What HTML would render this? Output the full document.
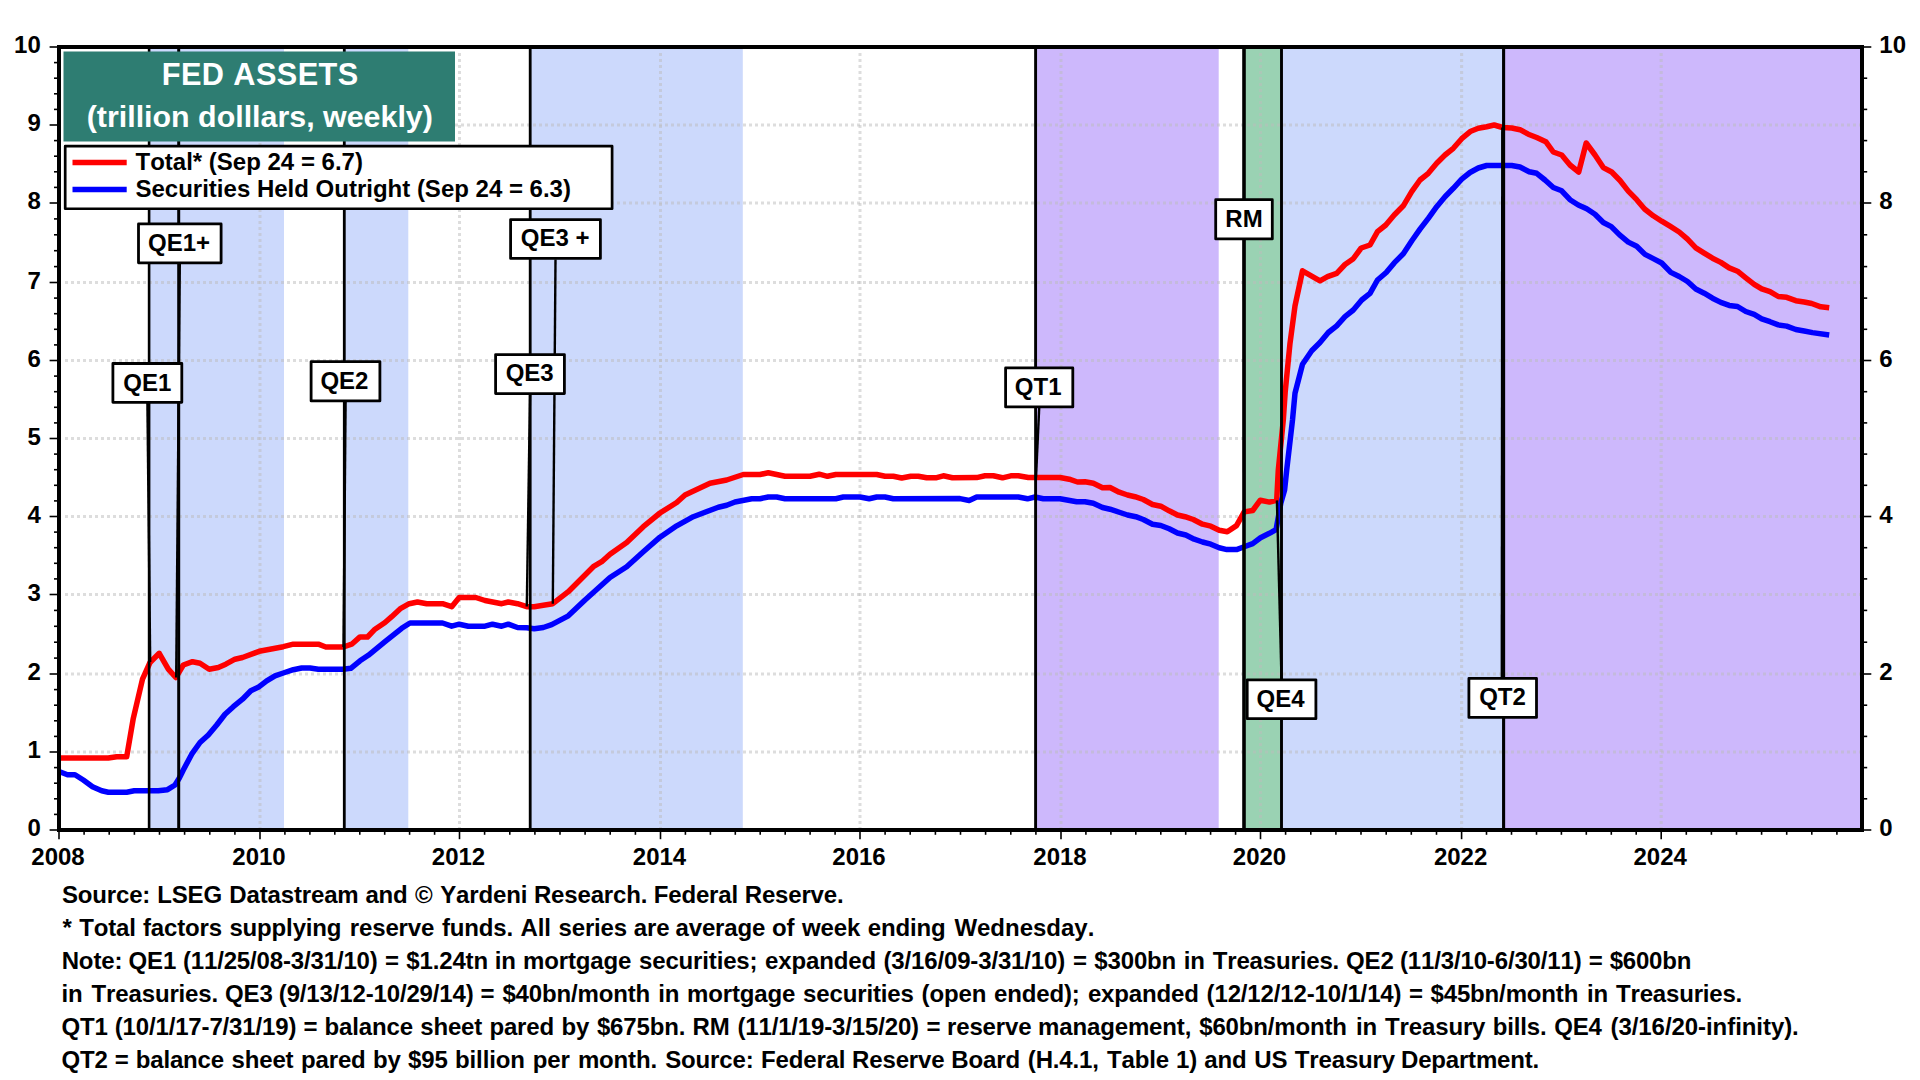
<!DOCTYPE html>
<html lang="en"><head><meta charset="utf-8"><title>Fed Assets</title>
<style>html,body{margin:0;padding:0;background:#fff;width:1920px;height:1080px;overflow:hidden}svg{display:block}</style></head>
<body>
<svg width="1920" height="1080" viewBox="0 0 1920 1080" font-family="Liberation Sans, Arial, Helvetica, sans-serif" font-weight="bold" style="font-kerning:none">
<rect width="1920" height="1080" fill="#fff"/>
<rect x="150.0" y="49" width="134.0" height="779" fill="#ccd9fc"/>
<rect x="345.0" y="49" width="63.3" height="779" fill="#ccd9fc"/>
<rect x="531.0" y="49" width="211.8" height="779" fill="#ccd9fc"/>
<rect x="1282.0" y="49" width="220.5" height="779" fill="#ccd9fc"/>
<rect x="1037.0" y="49" width="181.7" height="779" fill="#cdb8fc"/>
<rect x="1504.0" y="49" width="356.0" height="779" fill="#cdb8fc"/>
<rect x="1245.0" y="49" width="36.0" height="779" fill="#9ad2b3"/>
<g stroke="#bcbcbc" stroke-opacity="0.5" stroke-width="3" stroke-dasharray="3 3" fill="none">
<path d="M65 752.0H1860"/>
<path d="M65 674.0H1860"/>
<path d="M65 594.5H1860"/>
<path d="M65 516.5H1860"/>
<path d="M65 438.5H1860"/>
<path d="M65 360.5H1860"/>
<path d="M65 282.5H1860"/>
<path d="M65 203.0H1860"/>
<path d="M65 125.0H1860"/>
<path d="M260.0 53V828"/>
<path d="M459.5 53V828"/>
<path d="M660.5 53V828"/>
<path d="M860.0 53V828"/>
<path d="M1061.0 53V828"/>
<path d="M1260.5 53V828"/>
<path d="M1461.6 53V828"/>
<path d="M1661.2 53V828"/>
</g>
<path d="M59.0 758.0 L108.3 758.0 L116.7 756.7 L126.7 756.7 L133.3 718.3 L142.5 679.2 L150.0 662.5 L159.2 653.3 L168.3 669.2 L175.8 677.5 L183.3 665.0 L192.5 661.7 L200.0 663.3 L209.2 669.2 L218.3 667.5 L225.8 664.2 L235.0 659.2 L242.5 657.5 L259.2 651.3 L283.3 646.7 L293.3 644.2 L318.3 644.2 L325.8 647.0 L343.3 647.0 L351.7 644.2 L360.0 636.9 L367.5 637.0 L375.0 629.2 L385.0 622.5 L391.7 616.7 L400.8 608.3 L409.2 603.7 L417.5 602.0 L426.7 603.7 L442.5 603.7 L451.7 606.7 L459.2 597.5 L475.8 597.5 L485.0 600.5 L501.7 603.7 L508.3 602.0 L517.5 603.7 L526.7 606.7 L534.2 606.7 L543.3 605.3 L552.8 603.7 L568.3 591.7 L593.3 566.7 L601.7 561.7 L610.0 554.2 L626.7 542.5 L643.3 526.7 L660.0 513.0 L676.7 502.5 L685.0 495.0 L710.0 483.3 L726.7 480.0 L743.3 474.5 L760.0 474.5 L768.3 472.8 L785.0 476.3 L810.0 476.3 L819.2 474.2 L827.5 476.3 L835.8 474.5 L876.7 474.5 L885.0 476.3 L893.3 476.3 L901.7 478.0 L910.8 476.2 L918.3 476.2 L926.7 477.8 L935.8 477.8 L943.3 475.8 L952.5 477.8 L976.7 477.6 L985.0 475.8 L993.3 475.8 L1002.5 477.8 L1010.8 475.8 L1018.3 475.8 L1028.3 477.5 L1060.0 477.5 L1069.2 479.2 L1077.5 482.0 L1085.0 481.7 L1093.3 483.3 L1102.5 487.8 L1110.0 487.5 L1119.2 492.2 L1127.5 495.0 L1135.0 496.7 L1143.3 499.5 L1152.5 504.5 L1160.8 506.2 L1169.2 510.8 L1177.5 515.0 L1185.0 516.7 L1193.3 519.5 L1202.5 524.2 L1210.8 526.2 L1219.2 530.2 L1227.3 531.7 L1236.5 525.6 L1244.2 511.9 L1252.7 510.5 L1260.3 500.2 L1269.5 502.1 L1276.7 500.4 L1278.3 470.0 L1283.3 420.0 L1285.2 392.0 L1290.0 343.3 L1295.0 305.8 L1302.5 270.8 L1320.0 280.8 L1327.5 276.7 L1336.7 273.3 L1345.0 264.5 L1353.3 258.7 L1361.2 248.0 L1370.0 245.0 L1377.5 231.7 L1385.8 225.0 L1394.2 215.0 L1403.3 205.8 L1411.7 191.7 L1420.0 180.0 L1428.3 173.3 L1436.7 163.3 L1445.0 155.0 L1453.3 148.3 L1461.7 138.7 L1470.8 131.2 L1478.3 128.3 L1486.7 126.7 L1494.2 125.0 L1502.5 127.5 L1511.7 128.0 L1520.0 129.7 L1528.3 134.2 L1536.7 137.5 L1545.8 141.7 L1553.3 152.0 L1561.7 155.0 L1570.0 165.0 L1578.7 172.0 L1586.2 143.0 L1595.0 155.0 L1603.3 167.6 L1611.7 172.0 L1620.0 180.5 L1628.3 191.1 L1636.7 199.7 L1644.6 209.0 L1653.3 215.8 L1661.7 221.2 L1670.0 226.2 L1679.2 232.0 L1687.5 239.2 L1695.8 247.9 L1704.2 253.2 L1712.5 258.2 L1720.8 262.4 L1729.2 267.9 L1737.5 271.2 L1745.8 277.8 L1754.2 284.3 L1761.7 288.9 L1770.0 291.6 L1778.3 296.5 L1786.7 297.3 L1795.8 300.7 L1804.2 302.0 L1811.7 303.5 L1820.8 306.8 L1829.2 307.8" fill="none" stroke="#ff0000" stroke-width="5.5" stroke-linejoin="round"/>
<path d="M59.0 771.5 L67.5 774.7 L75.0 774.7 L83.3 780.0 L92.5 786.7 L101.7 790.8 L108.3 792.2 L126.7 792.2 L134.2 790.8 L158.3 790.8 L167.5 789.7 L175.0 785.0 L179.2 778.3 L183.3 770.0 L191.7 754.2 L200.0 742.5 L208.3 735.0 L216.7 725.0 L225.0 714.2 L233.3 706.7 L242.5 699.2 L250.8 690.8 L259.2 686.7 L266.7 680.8 L275.0 675.8 L283.3 673.0 L293.3 669.7 L301.7 668.0 L310.0 668.0 L318.3 669.3 L343.3 669.3 L350.8 668.3 L360.0 660.8 L368.3 655.3 L385.0 641.7 L401.7 628.3 L410.0 623.0 L442.5 623.0 L451.7 626.2 L459.2 624.2 L468.3 626.2 L485.0 626.2 L492.5 624.2 L501.7 626.2 L508.3 624.2 L517.5 627.5 L526.7 627.8 L534.2 628.8 L543.3 627.5 L551.7 624.7 L568.3 615.8 L585.0 600.0 L610.0 577.5 L626.7 566.7 L643.3 551.7 L660.0 537.2 L676.7 525.8 L693.3 516.7 L718.3 507.2 L726.7 505.3 L735.0 502.0 L751.7 498.7 L760.0 498.7 L768.3 497.0 L776.7 497.0 L785.0 498.7 L835.8 498.7 L843.3 497.0 L860.0 497.0 L869.2 498.7 L876.7 497.0 L885.0 497.0 L893.3 498.7 L960.0 498.6 L969.2 500.5 L976.7 497.0 L1018.3 497.0 L1027.5 498.8 L1035.0 497.0 L1043.3 498.7 L1060.0 498.7 L1076.7 501.7 L1085.0 501.7 L1093.3 503.3 L1102.5 507.5 L1110.0 509.2 L1127.5 515.0 L1135.8 516.7 L1143.3 519.5 L1152.5 524.2 L1160.8 525.5 L1169.2 528.8 L1177.5 533.0 L1185.8 535.0 L1194.2 539.2 L1202.5 542.0 L1210.8 544.2 L1219.2 547.8 L1226.9 549.6 L1236.5 549.6 L1244.2 546.7 L1252.7 543.6 L1260.5 537.7 L1269.4 533.3 L1276.1 529.6 L1280.8 503.3 L1284.6 490.0 L1286.7 470.0 L1292.5 420.0 L1295.0 393.3 L1302.5 364.2 L1311.7 350.8 L1320.0 342.5 L1328.3 332.5 L1336.7 325.8 L1345.0 316.7 L1353.3 310.0 L1361.7 300.0 L1370.0 293.3 L1377.5 280.0 L1386.2 272.5 L1394.2 262.9 L1403.3 253.8 L1412.0 240.5 L1420.0 229.2 L1428.3 218.3 L1436.7 206.7 L1445.0 196.7 L1453.3 188.3 L1461.7 179.2 L1470.0 172.5 L1478.3 168.0 L1486.7 165.5 L1511.7 165.5 L1520.0 167.0 L1529.2 171.7 L1536.7 173.3 L1545.0 180.0 L1553.3 187.5 L1561.7 190.8 L1570.0 199.7 L1578.3 205.0 L1586.7 208.8 L1595.0 214.2 L1603.3 222.5 L1611.3 226.6 L1619.6 234.9 L1628.3 242.1 L1636.7 246.3 L1645.0 254.4 L1653.3 258.6 L1661.7 263.0 L1670.8 272.4 L1679.2 276.5 L1687.5 281.5 L1695.8 289.0 L1704.2 293.2 L1712.5 298.2 L1720.8 302.4 L1729.2 305.4 L1737.5 306.5 L1745.8 311.5 L1754.2 314.4 L1761.7 318.8 L1770.0 321.7 L1778.3 324.9 L1786.7 326.1 L1795.8 329.5 L1804.2 331.0 L1812.5 332.6 L1829.2 335.0" fill="none" stroke="#0000ff" stroke-width="5.5" stroke-linejoin="round"/>
<g stroke="#000">
<path d="M149.1 49V828" stroke-width="2.6"/>
<path d="M178.7 49V828" stroke-width="3.0"/>
<path d="M344.3 49V828" stroke-width="2.8"/>
<path d="M530.2 49V828" stroke-width="2.8"/>
<path d="M1035.6 49V828" stroke-width="2.9"/>
<path d="M1244.0 49V828" stroke-width="3.6"/>
<path d="M1281.5 49V828" stroke-width="2.9"/>
<path d="M1503.6 49V828" stroke-width="3.1"/>
</g>
<g stroke="#000" stroke-width="2.4">
<path d="M147.4 403.0L150.2 662.0"/>
<path d="M179.8 264.0L176.2 677.5"/>
<path d="M345.6 402.0L343.5 647.0"/>
<path d="M530.0 394.5L526.8 606.5"/>
<path d="M555.5 259.5L552.8 603.7"/>
<path d="M1039.2 408.0L1036.0 477.5"/>
<path d="M1244.0 240.0L1244.2 512.0"/>
<path d="M1281.5 679.0L1276.9 500.4"/>
<path d="M1501.8 677.5L1502.3 127.5"/>
</g>
<rect x="59" y="47" width="1803" height="783" fill="none" stroke="#000" stroke-width="4"/>
<g stroke="#000" stroke-width="1.6">
<path d="M49.6 830.0H57"/>
<path d="M54 814.4H57"/>
<path d="M54 798.8H57"/>
<path d="M54 783.2H57"/>
<path d="M54 767.6H57"/>
<path d="M49.6 752.0H57"/>
<path d="M54 736.4H57"/>
<path d="M54 720.8H57"/>
<path d="M54 705.2H57"/>
<path d="M54 689.6H57"/>
<path d="M49.6 674.0H57"/>
<path d="M54 658.1H57"/>
<path d="M54 642.2H57"/>
<path d="M54 626.3H57"/>
<path d="M54 610.4H57"/>
<path d="M49.6 594.5H57"/>
<path d="M54 578.9H57"/>
<path d="M54 563.3H57"/>
<path d="M54 547.7H57"/>
<path d="M54 532.1H57"/>
<path d="M49.6 516.5H57"/>
<path d="M54 500.9H57"/>
<path d="M54 485.3H57"/>
<path d="M54 469.7H57"/>
<path d="M54 454.1H57"/>
<path d="M49.6 438.5H57"/>
<path d="M54 422.9H57"/>
<path d="M54 407.3H57"/>
<path d="M54 391.7H57"/>
<path d="M54 376.1H57"/>
<path d="M49.6 360.5H57"/>
<path d="M54 344.9H57"/>
<path d="M54 329.3H57"/>
<path d="M54 313.7H57"/>
<path d="M54 298.1H57"/>
<path d="M49.6 282.5H57"/>
<path d="M54 266.6H57"/>
<path d="M54 250.7H57"/>
<path d="M54 234.8H57"/>
<path d="M54 218.9H57"/>
<path d="M49.6 203.0H57"/>
<path d="M54 187.4H57"/>
<path d="M54 171.8H57"/>
<path d="M54 156.2H57"/>
<path d="M54 140.6H57"/>
<path d="M49.6 125.0H57"/>
<path d="M54 109.4H57"/>
<path d="M54 93.8H57"/>
<path d="M54 78.2H57"/>
<path d="M54 62.6H57"/>
<path d="M49.6 47.0H57"/>
<path d="M1864 830.0H1871.3"/>
<path d="M1864 798.8H1867.2"/>
<path d="M1864 767.6H1867.2"/>
<path d="M1864 736.4H1867.2"/>
<path d="M1864 705.2H1867.2"/>
<path d="M1864 674.0H1871.3"/>
<path d="M1864 642.2H1867.2"/>
<path d="M1864 610.4H1867.2"/>
<path d="M1864 578.9H1867.2"/>
<path d="M1864 547.7H1867.2"/>
<path d="M1864 516.5H1871.3"/>
<path d="M1864 485.3H1867.2"/>
<path d="M1864 454.1H1867.2"/>
<path d="M1864 422.9H1867.2"/>
<path d="M1864 391.7H1867.2"/>
<path d="M1864 360.5H1871.3"/>
<path d="M1864 329.3H1867.2"/>
<path d="M1864 298.1H1867.2"/>
<path d="M1864 266.6H1867.2"/>
<path d="M1864 234.8H1867.2"/>
<path d="M1864 203.0H1871.3"/>
<path d="M1864 171.8H1867.2"/>
<path d="M1864 140.6H1867.2"/>
<path d="M1864 109.4H1867.2"/>
<path d="M1864 78.2H1867.2"/>
<path d="M1864 47.0H1871.3"/>
<path d="M59.0 832V839.2"/>
<path d="M84.1 832V834.8"/>
<path d="M109.2 832V834.8"/>
<path d="M134.4 832V834.8"/>
<path d="M159.5 832V834.8"/>
<path d="M184.6 832V834.8"/>
<path d="M209.8 832V834.8"/>
<path d="M234.9 832V834.8"/>
<path d="M260.0 832V839.2"/>
<path d="M284.9 832V834.8"/>
<path d="M309.9 832V834.8"/>
<path d="M334.8 832V834.8"/>
<path d="M359.8 832V834.8"/>
<path d="M384.7 832V834.8"/>
<path d="M409.6 832V834.8"/>
<path d="M434.6 832V834.8"/>
<path d="M459.5 832V839.2"/>
<path d="M484.6 832V834.8"/>
<path d="M509.8 832V834.8"/>
<path d="M534.9 832V834.8"/>
<path d="M560.0 832V834.8"/>
<path d="M585.1 832V834.8"/>
<path d="M610.2 832V834.8"/>
<path d="M635.4 832V834.8"/>
<path d="M660.5 832V839.2"/>
<path d="M685.4 832V834.8"/>
<path d="M710.4 832V834.8"/>
<path d="M735.3 832V834.8"/>
<path d="M760.2 832V834.8"/>
<path d="M785.2 832V834.8"/>
<path d="M810.1 832V834.8"/>
<path d="M835.1 832V834.8"/>
<path d="M860.0 832V839.2"/>
<path d="M885.1 832V834.8"/>
<path d="M910.2 832V834.8"/>
<path d="M935.4 832V834.8"/>
<path d="M960.5 832V834.8"/>
<path d="M985.6 832V834.8"/>
<path d="M1010.8 832V834.8"/>
<path d="M1035.9 832V834.8"/>
<path d="M1061.0 832V839.2"/>
<path d="M1085.9 832V834.8"/>
<path d="M1110.9 832V834.8"/>
<path d="M1135.8 832V834.8"/>
<path d="M1160.8 832V834.8"/>
<path d="M1185.7 832V834.8"/>
<path d="M1210.6 832V834.8"/>
<path d="M1235.6 832V834.8"/>
<path d="M1260.5 832V839.2"/>
<path d="M1285.6 832V834.8"/>
<path d="M1310.8 832V834.8"/>
<path d="M1335.9 832V834.8"/>
<path d="M1361.0 832V834.8"/>
<path d="M1386.2 832V834.8"/>
<path d="M1411.3 832V834.8"/>
<path d="M1436.5 832V834.8"/>
<path d="M1461.6 832V839.2"/>
<path d="M1486.5 832V834.8"/>
<path d="M1511.5 832V834.8"/>
<path d="M1536.5 832V834.8"/>
<path d="M1561.4 832V834.8"/>
<path d="M1586.3 832V834.8"/>
<path d="M1611.3 832V834.8"/>
<path d="M1636.2 832V834.8"/>
<path d="M1661.2 832V839.2"/>
<path d="M1686.3 832V834.8"/>
<path d="M1711.4 832V834.8"/>
<path d="M1736.5 832V834.8"/>
<path d="M1761.6 832V834.8"/>
<path d="M1786.7 832V834.8"/>
<path d="M1811.8 832V834.8"/>
<path d="M1836.9 832V834.8"/>
</g>
<g font-size="24" fill="#000">
<text x="40.8" y="836.3" text-anchor="end">0</text>
<text x="40.8" y="758.3" text-anchor="end">1</text>
<text x="40.8" y="680.3" text-anchor="end">2</text>
<text x="40.8" y="600.8" text-anchor="end">3</text>
<text x="40.8" y="522.8" text-anchor="end">4</text>
<text x="40.8" y="444.8" text-anchor="end">5</text>
<text x="40.8" y="366.8" text-anchor="end">6</text>
<text x="40.8" y="288.8" text-anchor="end">7</text>
<text x="40.8" y="209.3" text-anchor="end">8</text>
<text x="40.8" y="131.3" text-anchor="end">9</text>
<text x="40.8" y="53.3" text-anchor="end">10</text>
<text x="1879.3" y="836.3">0</text>
<text x="1879.3" y="680.3">2</text>
<text x="1879.3" y="522.8">4</text>
<text x="1879.3" y="366.8">6</text>
<text x="1879.3" y="209.3">8</text>
<text x="1879.3" y="53.3">10</text>
<text x="58.0" y="864.6" text-anchor="middle">2008</text>
<text x="259.0" y="864.6" text-anchor="middle">2010</text>
<text x="458.5" y="864.6" text-anchor="middle">2012</text>
<text x="659.5" y="864.6" text-anchor="middle">2014</text>
<text x="859.0" y="864.6" text-anchor="middle">2016</text>
<text x="1060.0" y="864.6" text-anchor="middle">2018</text>
<text x="1259.5" y="864.6" text-anchor="middle">2020</text>
<text x="1460.6" y="864.6" text-anchor="middle">2022</text>
<text x="1660.2" y="864.6" text-anchor="middle">2024</text>
</g>
<rect x="63.5" y="51.5" width="391.5" height="90" fill="#2e7d72"/>
<g font-size="30.7" fill="#fff" text-anchor="middle">
<text x="260.2" y="85.3" font-size="30.7" letter-spacing="0.4">FED ASSETS</text>
<text x="259.8" y="127" font-size="30.4">(trillion dolllars, weekly)</text>
</g>
<rect x="65.2" y="146.15" width="546.9" height="62.6" fill="#fff" stroke="#000" stroke-width="2.7" stroke-linejoin="round"/>
<path d="M72.5 162.5H126.7" stroke="#ff0000" stroke-width="5.5"/>
<path d="M72.5 189.5H126.7" stroke="#0000ff" stroke-width="5.5"/>
<g font-size="24" fill="#000">
<text x="135.5" y="169.8" letter-spacing="0">Total* (Sep 24 = 6.7)</text>
<text x="135.5" y="196.7">Securities Held Outright (Sep 24 = 6.3)</text>
</g>
<g font-size="24" fill="#000" text-anchor="middle">
<rect x="138.5" y="223.9" width="82.6" height="38.9" fill="#fff" stroke="#000" stroke-width="2.8" stroke-linejoin="round"/>
<text x="179.0" y="251.0">QE1+</text>
<rect x="112.9" y="363.5" width="68.9" height="38.8" fill="#fff" stroke="#000" stroke-width="2.8" stroke-linejoin="round"/>
<text x="147.3" y="391.0">QE1</text>
<rect x="311.1" y="361.6" width="68.8" height="39.3" fill="#fff" stroke="#000" stroke-width="2.8" stroke-linejoin="round"/>
<text x="344.4" y="389.0">QE2</text>
<rect x="510.6" y="219.6" width="89.8" height="38.8" fill="#fff" stroke="#000" stroke-width="2.8" stroke-linejoin="round"/>
<text x="555.1" y="246.4">QE3 +</text>
<rect x="495.6" y="354.6" width="68.8" height="39.0" fill="#fff" stroke="#000" stroke-width="2.8" stroke-linejoin="round"/>
<text x="529.7" y="381.0">QE3</text>
<rect x="1005.6" y="367.9" width="67.2" height="39.0" fill="#fff" stroke="#000" stroke-width="2.8" stroke-linejoin="round"/>
<text x="1038.2" y="395.0">QT1</text>
<rect x="1215.7" y="199.7" width="56.6" height="39.2" fill="#fff" stroke="#000" stroke-width="2.8" stroke-linejoin="round"/>
<text x="1244.0" y="227.0">RM</text>
<rect x="1247.2" y="679.8" width="68.7" height="38.9" fill="#fff" stroke="#000" stroke-width="2.8" stroke-linejoin="round"/>
<text x="1280.5" y="707.0">QE4</text>
<rect x="1468.9" y="678.4" width="67.6" height="39.0" fill="#fff" stroke="#000" stroke-width="2.8" stroke-linejoin="round"/>
<text x="1502.5" y="705.0">QT2</text>
</g>
<g font-size="24" fill="#000">
<text y="903.2" letter-spacing="-0.15"><tspan x="61.9">Source: </tspan><tspan x="157.2">LSEG </tspan><tspan x="229.3">Datastream </tspan><tspan x="365.4">and </tspan><tspan x="415.0">© </tspan><tspan x="440.2">Yardeni </tspan><tspan x="533.9">Research. </tspan><tspan x="653.7">Federal </tspan><tspan x="744.8" letter-spacing="-0.186">Reserve.</tspan></text>
<text y="936.2" letter-spacing="-0.15"><tspan x="62.5">* </tspan><tspan x="79.2">Total </tspan><tspan x="142.9">factors </tspan><tspan x="229.4">supplying </tspan><tspan x="349.8">reserve </tspan><tspan x="442.0">funds. </tspan><tspan x="520.6">All </tspan><tspan x="558.5">series </tspan><tspan x="633.8">are </tspan><tspan x="675.5">average </tspan><tspan x="772.0">of </tspan><tspan x="802.0">week </tspan><tspan x="867.7">ending </tspan><tspan x="954.4" letter-spacing="-0.011">Wednesday.</tspan></text>
<text y="969.2" letter-spacing="-0.15"><tspan x="61.7">Note: </tspan><tspan x="128.6">QE1 </tspan><tspan x="182.9">(11/25/08-3/31/10) </tspan><tspan x="385.1">= </tspan><tspan x="406.3">$1.24tn </tspan><tspan x="494.7">in </tspan><tspan x="523.0">mortgage </tspan><tspan x="639.0">securities; </tspan><tspan x="765.1">expanded </tspan><tspan x="883.5">(3/16/09-3/31/10) </tspan><tspan x="1072.9">= </tspan><tspan x="1094.3">$300bn </tspan><tspan x="1183.8">in </tspan><tspan x="1212.7">Treasuries. </tspan><tspan x="1346.0">QE2 </tspan><tspan x="1400.0">(11/3/10-6/30/11) </tspan><tspan x="1588.8">= </tspan><tspan x="1609.7" letter-spacing="-0.220">$600bn</tspan></text>
<text y="1002.2" letter-spacing="-0.15"><tspan x="61.6">in </tspan><tspan x="91.6">Treasuries. </tspan><tspan x="225.0">QE3 </tspan><tspan x="278.8">(9/13/12-10/29/14) </tspan><tspan x="480.6">= </tspan><tspan x="502.4">$40bn/month </tspan><tspan x="658.2">in </tspan><tspan x="687.1">mortgage </tspan><tspan x="803.1">securities </tspan><tspan x="921.6">(open </tspan><tspan x="994.1">ended); </tspan><tspan x="1087.9">expanded </tspan><tspan x="1206.6">(12/12/12-10/1/14) </tspan><tspan x="1408.9">= </tspan><tspan x="1430.5">$45bn/month </tspan><tspan x="1587.0">in </tspan><tspan x="1616.1" letter-spacing="-0.190">Treasuries.</tspan></text>
<text y="1035.2" letter-spacing="-0.15"><tspan x="61.6">QT1 </tspan><tspan x="114.7">(10/1/17-7/31/19) </tspan><tspan x="303.4">= </tspan><tspan x="324.6">balance </tspan><tspan x="420.2">sheet </tspan><tspan x="489.4">pared </tspan><tspan x="561.6">by </tspan><tspan x="596.9">$675bn. </tspan><tspan x="692.5">RM </tspan><tspan x="737.4">(11/1/19-3/15/20) </tspan><tspan x="926.6">= </tspan><tspan x="947.0">reserve </tspan><tspan x="1038.1">management, </tspan><tspan x="1199.2">$60bn/month </tspan><tspan x="1355.9">in </tspan><tspan x="1385.1">Treasury </tspan><tspan x="1492.7">bills. </tspan><tspan x="1554.2">QE4 </tspan><tspan x="1610.5" letter-spacing="-0.061">(3/16/20-infinity).</tspan></text>
<text y="1068.2" letter-spacing="-0.15"><tspan x="61.6">QT2 </tspan><tspan x="114.7">= </tspan><tspan x="135.7">balance </tspan><tspan x="231.5">sheet </tspan><tspan x="301.0">pared </tspan><tspan x="372.9">by </tspan><tspan x="408.0">$95 </tspan><tspan x="455.1">billion </tspan><tspan x="532.8">per </tspan><tspan x="577.9">month. </tspan><tspan x="665.2">Source: </tspan><tspan x="761.0">Federal </tspan><tspan x="852.1">Reserve </tspan><tspan x="951.3">Board </tspan><tspan x="1027.8">(H.4.1, </tspan><tspan x="1107.0">Table </tspan><tspan x="1176.1">1) </tspan><tspan x="1204.2">and </tspan><tspan x="1254.3">US </tspan><tspan x="1294.8">Treasury </tspan><tspan x="1401.1" letter-spacing="-0.200">Department.</tspan></text>
</g>
</svg>
</body></html>
